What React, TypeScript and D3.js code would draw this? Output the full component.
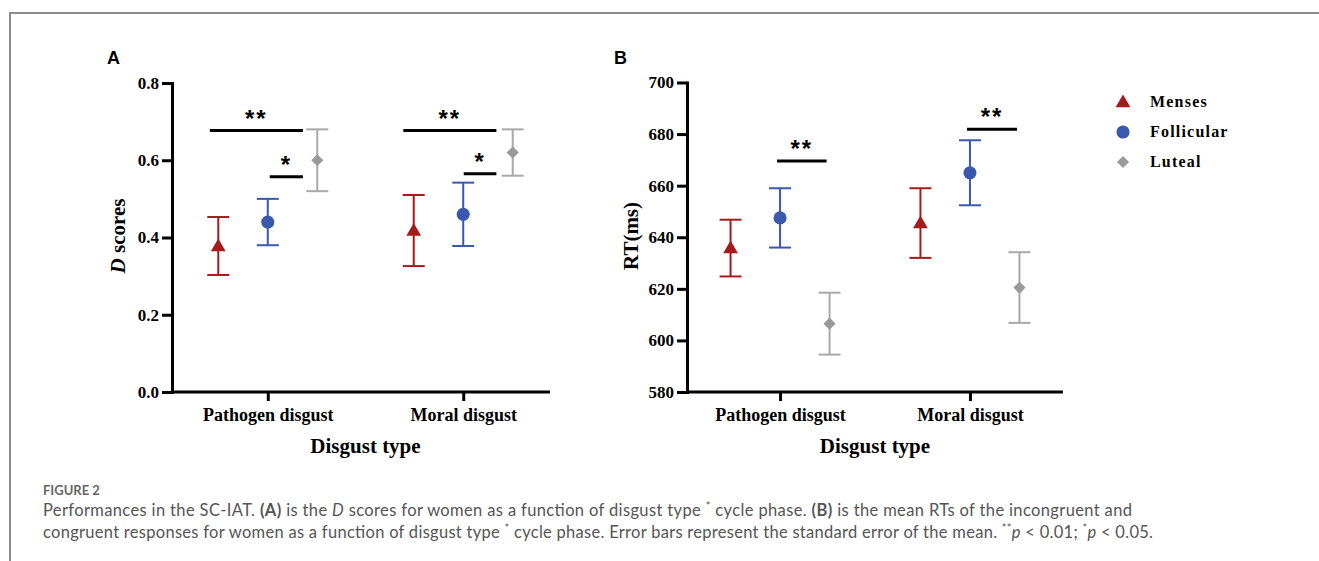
import React, { useEffect, useRef } from "react";
import * as d3 from "d3";

const categories = ["Pathogen disgust", "Moral disgust"];
const phases = ["Menses", "Follicular", "Luteal"];
const markerColors = ["#a51b1b", "#3a59ad", "#9a9a9a"];
const barColors = ["#a51b1b", "#3a59ad", "#a9a9a9"];

// rows = disgust type, cols = cycle phase
const dMeans = [
  [0.378, 0.44, 0.6],
  [0.418, 0.46, 0.62],
];
const dErrors = [
  [0.075, 0.06, 0.08],
  [0.092, 0.082, 0.06],
];
const dTicks = [0, 0.2, 0.4, 0.6, 0.8];

const rtMeans = [
  [635.8, 647.5, 606.5],
  [645.5, 665, 620.5],
];
const rtErrors = [
  [11, 11.5, 12],
  [13.5, 12.6, 13.7],
];
const rtTicks = [580, 600, 620, 640, 660, 680, 700];

// significance bars: category, start/end in phase steps from category centre, height, label
const dSig = [
  { cat: 0, from: -1.17, to: 0.71, y: 0.677, label: "**" },
  { cat: 0, from: 0.04, to: 0.71, y: 0.557, label: "*" },
  { cat: 1, from: -1.21, to: 0.67, y: 0.677, label: "**" },
  { cat: 1, from: 0.01, to: 0.67, y: 0.565, label: "*" },
];
const rtSig = [
  { cat: 0, from: -0.06, to: 0.94, y: 669.6, label: "**" },
  { cat: 1, from: -0.06, to: 0.95, y: 681.9, label: "**" },
];

const SERIF = "'Liberation Serif', 'Times New Roman', serif";
const SANS = "'Liberation Sans', Arial, sans-serif";

function App() {
  const ref = useRef<SVGSVGElement>(null);

  useEffect(() => {
    const svg = d3.select(ref.current);
    svg.selectAll("*").remove();

    // frame
    svg.append("path")
      .attr("d", "M10,561V13H1319")
      .attr("fill", "none")
      .attr("stroke", "#8c8c8c")
      .attr("stroke-width", 2);

    const symTri = d3.symbol().type(d3.symbolTriangle).size(95)();
    const symCircle = d3.symbol().type(d3.symbolCircle).size(135)();
    const symDiamond = d3.symbol().type(d3.symbolSquare).size(74)();
    const shapes = [symTri, symCircle, symDiamond];
    const shapeRot = [0, 0, 45];

    function panel(o) {
      const g = svg.append("g");
      const y = d3.scaleLinear().domain(o.domain).range([392, o.top]);
      const x = d3.scalePoint().domain(categories).range([o.left, o.left + o.span]).padding(0.49);
      const off = d3.scalePoint().domain(phases).range([-49.5, 49.5]);
      const step = off.step();

      // y axis
      const ya = g.append("g")
        .attr("transform", `translate(${o.left},0)`)
        .call(d3.axisLeft(y).tickValues(o.ticks).tickFormat(o.fmt).tickSize(10).tickSizeOuter(0).tickPadding(3));
      // x axis
      const xa = g.append("g")
        .attr("transform", "translate(0,392)")
        .call(d3.axisBottom(x).tickSize(9).tickSizeOuter(0).tickPadding(7));
      xa.select(".domain").remove();
      g.append("line")
        .attr("x1", o.left).attr("x2", o.axisEnd)
        .attr("y1", 392).attr("y2", 392)
        .attr("stroke", "#000").attr("stroke-width", 3);
      [ya, xa].forEach((a) => {
        a.selectAll(".domain").attr("stroke-width", 3).attr("stroke-linecap", "square");
        a.selectAll(".tick line").attr("stroke-width", 3);
        a.selectAll(".tick text")
          .attr("font-family", SERIF)
          .attr("font-weight", "bold")
          .attr("fill", "#000");
      });
      ya.selectAll(".tick text").attr("font-size", 17);
      xa.selectAll(".tick text").attr("font-size", 18);

      // axis titles
      g.append("text")
        .attr("x", (x(categories[0]) + x(categories[1])) / 2)
        .attr("y", 453)
        .attr("text-anchor", "middle")
        .attr("font-family", SERIF)
        .attr("font-weight", "bold")
        .attr("font-size", 21)
        .text("Disgust type");
      const yt = g.append("text")
        .attr("transform", `translate(${o.titleX},236) rotate(-90)`)
        .attr("text-anchor", "middle")
        .attr("font-family", SERIF)
        .attr("font-weight", "bold")
        .attr("font-size", 21);
      o.title.forEach((t) => {
        yt.append("tspan").attr("font-style", t.italic ? "italic" : "normal").text(t.text);
      });

      // panel letter
      g.append("text")
        .attr("x", o.letterX)
        .attr("y", 64)
        .attr("font-family", SANS)
        .attr("font-weight", "bold")
        .attr("font-size", 18)
        .text(o.letter);

      // error bars and markers
      categories.forEach((c, ci) => {
        phases.forEach((p, pi) => {
          const cx = x(c) + off(p);
          const m = o.means[ci][pi];
          const e = o.errors[ci][pi];
          const eg = g.append("g")
            .attr("stroke", barColors[pi])
            .attr("stroke-width", 2)
            .attr("fill", "none");
          eg.append("line").attr("x1", cx).attr("x2", cx).attr("y1", y(m - e)).attr("y2", y(m + e));
          [m - e, m + e].forEach((v) => {
            eg.append("line").attr("x1", cx - 11).attr("x2", cx + 11).attr("y1", y(v)).attr("y2", y(v));
          });
          g.append("path")
            .attr("d", shapes[pi])
            .attr("transform", `translate(${cx},${y(m) + (pi === 0 ? 1 : 0)}) rotate(${shapeRot[pi]})`)
            .attr("fill", markerColors[pi]);
        });
      });

      // significance
      o.sig.forEach((s) => {
        const cx = x(categories[s.cat]);
        const x1 = cx + s.from * step;
        const x2 = cx + s.to * step;
        g.append("line")
          .attr("x1", x1).attr("x2", x2)
          .attr("y1", y(s.y)).attr("y2", y(s.y))
          .attr("stroke", "#000").attr("stroke-width", 3);
        g.append("text")
          .attr("x", (x1 + x2) / 2)
          .attr("y", y(s.y) - 4)
          .attr("text-anchor", "middle")
          .attr("font-family", SANS)
          .attr("font-weight", "bold")
          .attr("font-size", 24)
          .attr("letter-spacing", 2)
          .text(s.label);
      });
    }

    panel({
      left: 172, span: 387, axisEnd: 550, top: 83,
      domain: [0, 0.8], ticks: dTicks, fmt: d3.format(".1f"),
      means: dMeans, errors: dErrors, sig: dSig,
      letter: "A", letterX: 107, titleX: 125,
      title: [{ text: "D", italic: true }, { text: " scores" }],
    });
    panel({
      left: 687, span: 376, axisEnd: 1063, top: 82.5,
      domain: [580, 700], ticks: rtTicks, fmt: d3.format("d"),
      means: rtMeans, errors: rtErrors, sig: rtSig,
      letter: "B", letterX: 614, titleX: 638,
      title: [{ text: "RT(ms)" }],
    });

    // legend
    const lg = svg.append("g").attr("transform", "translate(1123,102)");
    phases.forEach((p, i) => {
      lg.append("path")
        .attr("d", shapes[i])
        .attr("transform", `translate(0,${i * 30 + (i === 0 ? 1 : 0)}) rotate(${shapeRot[i]})`)
        .attr("fill", markerColors[i]);
      lg.append("text")
        .attr("x", 27)
        .attr("y", i * 30 + 5)
        .attr("font-family", SERIF)
        .attr("font-weight", "bold")
        .attr("font-size", 16)
        .attr("letter-spacing", 1.2)
        .text(p);
    });

    // caption
    const cap = svg.append("g").attr("font-family", "Lato, 'Open Sans', sans-serif").attr("fill", "#555");
    cap.append("text")
      .attr("x", 43).attr("y", 495)
      .attr("font-size", 13).attr("font-weight", "bold").attr("fill", "#666")
      .text("FIGURE 2");
    const l1 = cap.append("text").attr("x", 43).attr("y", 516).attr("font-size", 16.5)
      .attr("textLength", 1089).attr("lengthAdjust", "spacing");
    l1.append("tspan").text("Performances in the SC-IAT. ");
    l1.append("tspan").attr("font-weight", "bold").text("(A)");
    l1.append("tspan").text(" is the ");
    l1.append("tspan").attr("font-style", "italic").text("D");
    l1.append("tspan").text(" scores for women as a function of disgust type ");
    l1.append("tspan").attr("font-size", 11).attr("dy", -6).text("*");
    l1.append("tspan").attr("dy", 6).text(" cycle phase. ");
    l1.append("tspan").attr("font-weight", "bold").text("(B)");
    l1.append("tspan").text(" is the mean RTs of the incongruent and");
    const l2 = cap.append("text").attr("x", 43).attr("y", 538).attr("font-size", 16.5)
      .attr("textLength", 1110).attr("lengthAdjust", "spacing");
    l2.append("tspan").text("congruent responses for women as a function of disgust type ");
    l2.append("tspan").attr("font-size", 11).attr("dy", -6).text("*");
    l2.append("tspan").attr("dy", 6).text(" cycle phase. Error bars represent the standard error of the mean. ");
    l2.append("tspan").attr("font-size", 11).attr("dy", -6).text("**");
    l2.append("tspan").attr("dy", 6).attr("font-style", "italic").text("p");
    l2.append("tspan").text(" < 0.01; ");
    l2.append("tspan").attr("font-size", 11).attr("dy", -6).text("*");
    l2.append("tspan").attr("dy", 6).attr("font-style", "italic").text("p");
    l2.append("tspan").text(" < 0.05.");
  }, []);

  return (
    <svg
      ref={ref}
      width={1319}
      height={561}
      style={{ position: "absolute", left: 0, top: 0, background: "#fff" }}
    />
  );
}

export default App;
